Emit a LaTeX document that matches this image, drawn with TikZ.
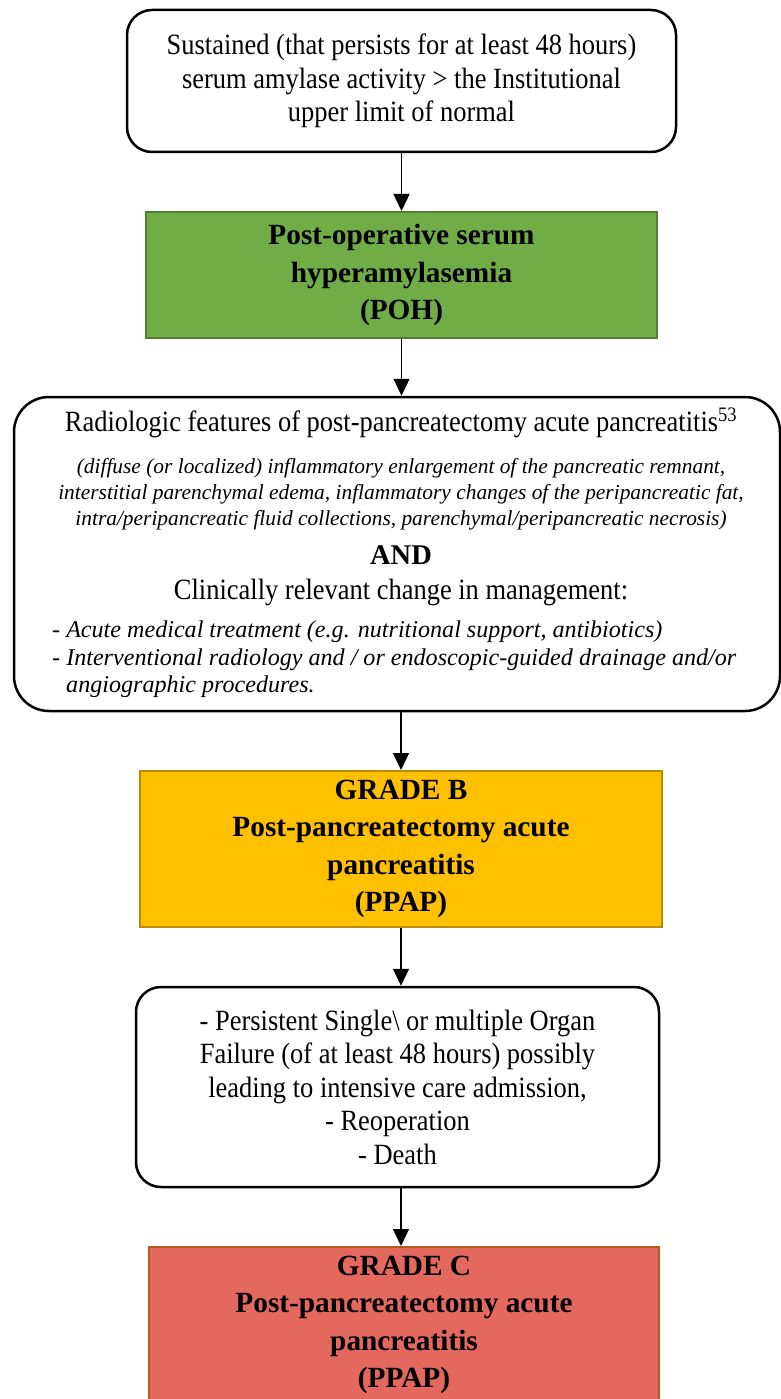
\documentclass[tikz,border=0pt]{standalone}
\usepackage{fontspec}
\setmainfont{Liberation Serif}[UprightFeatures={FakeStretch=0.9}]
\usetikzlibrary{arrows.meta}

\definecolor{pohgreen}{RGB}{112,173,71}
\definecolor{pohgreenline}{RGB}{80,126,50}
\definecolor{gradebyellow}{RGB}{255,192,0}
\definecolor{gradebline}{RGB}{188,140,0}
\definecolor{gradecred}{RGB}{228,104,94}
\definecolor{gradecline}{RGB}{174,90,33}

\newcommand{\normtext}{\fontsize{29.4}{33.5}\selectfont}
\newcommand{\desctext}{\fontsize{21.4}{26.5}\selectfont\itshape}
\newcommand{\listtext}{\fontsize{24.1}{28}\selectfont\itshape}

\tikzset{
  roundbox/.style={draw, line width=2.5pt, rounded corners=25pt, fill=white, align=center, inner sep=0pt, font=\normtext},
  gradebox/.style={draw, line width=2pt, align=center, inner sep=0pt, font=\bfseries\fontsize{29.3}{37.5}\selectfont},
  flowarrow/.style={-{Triangle[width=16pt,length=17pt]}, line width=1.3pt},
  boxtext/.style={inner sep=0pt, anchor=base}
}

\begin{document}
\begin{tikzpicture}[x=1pt,y=-1pt]
\clip (0,0) rectangle (781,1399);
\fill[white] (0,0) rectangle (781,1399);

\node[roundbox, minimum width=549pt, minimum height=142pt] (sustained) at (401.5,81) {Sustained (that persists for at least 48 hours)\\ serum amylase activity > the Institutional\\ upper limit of normal};
\node[gradebox, fill=pohgreen, draw=pohgreenline, minimum width=511pt, minimum height=126pt] (poh) at (401.5,275) {Post-operative serum\\ hyperamylasemia\\ (POH)};

% radiologic features and change in management
\node[roundbox, rounded corners=35pt, minimum width=766pt, minimum height=314pt] (radio) at (397,554) {};
\node[boxtext, font=\normtext] (radiohead) at (401,431) {Radiologic features of post-pancreatectomy acute pancreatitis\textsuperscript{53}};
\node[boxtext, font=\desctext] (radiodesc1) at (401,473) {(diffuse (or localized) inflammatory enlargement of the pancreatic remnant,};
\node[boxtext, font=\desctext] (radiodesc2) at (401,499) {interstitial parenchymal edema, inflammatory changes of the peripancreatic fat,};
\node[boxtext, font=\desctext] (radiodesc3) at (401,525) {intra/peripancreatic fluid collections, parenchymal/peripancreatic necrosis)};
\node[boxtext, font=\bfseries\fontsize{28.5}{33}\selectfont] (radioand) at (401,564) {AND};
\node[boxtext, font=\normtext] (mgmthead) at (401,599) {Clinically relevant change in management:};
\node[boxtext, anchor=base west, font=\listtext] (mgmt1) at (52,637) {- Acute medical treatment (e.g. nutritional support, antibiotics)};
\node[boxtext, anchor=base west, font=\listtext] (mgmt2) at (52,665) {- Interventional radiology and / or endoscopic-guided drainage and/or};
\node[boxtext, anchor=base west, font=\listtext] (mgmt3) at (66,692) {angiographic procedures.};

\node[gradebox, fill=gradebyellow, draw=gradebline, minimum width=522pt, minimum height=156pt] (gradeb) at (401,849) {GRADE B\\ Post-pancreatectomy acute\\ pancreatitis\\ (PPAP)};
\node[roundbox, minimum width=523pt, minimum height=200pt] (organ) at (397.5,1087) {- Persistent Single\textbackslash{} or multiple Organ\\ Failure (of at least 48 hours) possibly\\ leading to intensive care admission,\\ - Reoperation\\ - Death};
\node[gradebox, fill=gradecred, draw=gradecline, minimum width=510pt, minimum height=156pt] (gradec) at (404,1325) {GRADE C\\ Post-pancreatectomy acute\\ pancreatitis\\ (PPAP)};

\draw[flowarrow] (sustained.south) -- (sustained.south |- poh.north);
\draw[flowarrow] (poh.south) -- (poh.south |- radio.north);
\draw[flowarrow] (gradeb.north |- radio.south) -- (gradeb.north);
\draw[flowarrow] (gradeb.south) -- (gradeb.south |- organ.north);
\draw[flowarrow] (gradeb.south |- organ.south) -- (gradeb.south |- gradec.north);

\end{tikzpicture}
\end{document}
